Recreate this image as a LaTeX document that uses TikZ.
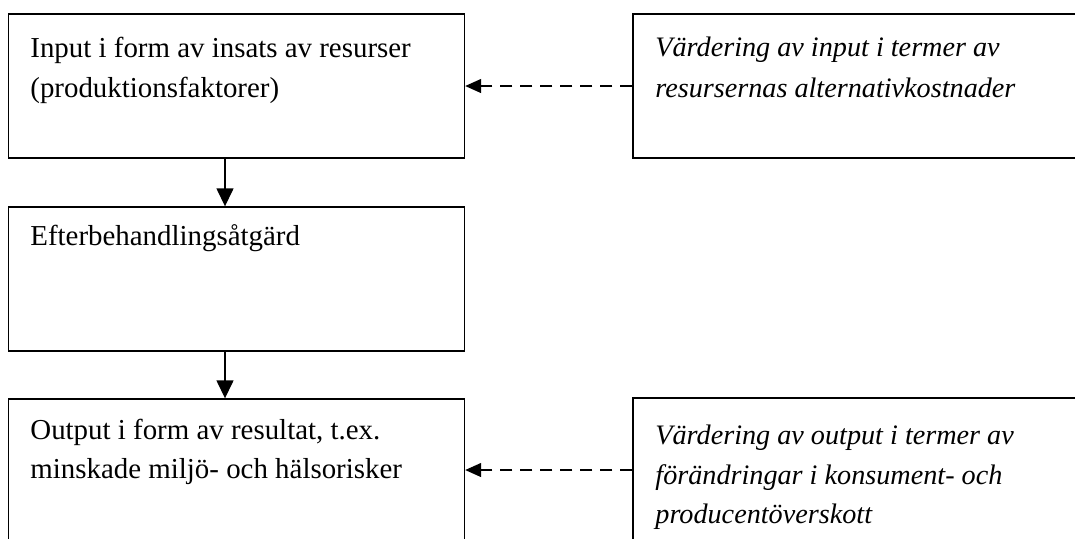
\documentclass[tikz,border=0pt]{standalone}
\usepackage{fontspec}
\setmainfont{Liberation Serif}
\usetikzlibrary{arrows.meta}
\begin{document}
\begin{tikzpicture}[x=0.5pt,y=-0.5pt,
  box/.style={draw,line width=0.7pt,inner sep=0pt,minimum width=228pt,minimum height=72pt},
  rbox/.style={draw,line width=0.7pt,inner sep=0pt,minimum width=224pt,minimum height=72pt},
  txt/.style={anchor=base west,inner sep=0pt,font=\fontsize{14.45}{20}\selectfont},
  itxt/.style={txt,font=\fontsize{14.1}{20}\selectfont\itshape},
  flow/.style={line width=0.7pt,-{Triangle[length=9pt,width=8.5pt]}},
  valarrow/.style={line width=0.7pt,dash pattern=on 6pt off 4pt,-{Triangle[length=8pt,width=7pt]}}]
\useasboundingbox (0,0) rectangle (1075,538);
\clip (0,0) rectangle (1075,538);
\node[box] (b1) at (236.5,86) {};
\node[box] (b2) at (236.5,279) {};
\node[box] (b3) at (236.5,471) {};
\node[rbox] (r1) at (857,86) {};
\node[rbox] (r2) at (857,470) {};
\node[txt] (t1a) at (30,57) {Input i form av insats av resurser};
\node[txt] (t1b) at (30,97) {(produktionsfaktorer)};
\node[txt] (t2a) at (30,245) {Efterbehandlingsåtgärd};
\node[txt] (t3a) at (30,439) {Output i form av resultat, t.ex.};
\node[txt] (t3b) at (30,478) {minskade miljö- och hälsorisker};
\node[itxt] (r1a) at (655,56) {Värdering av input i termer av};
\node[itxt] (r1b) at (655,97) {resursernas alternativkostnader};
\node[itxt] (r2a) at (655,444) {Värdering av output i termer av};
\node[itxt] (r2b) at (655,484) {förändringar i konsument- och};
\node[itxt] (r2c) at (655,523) {producentöverskott};
\draw[flow] ([xshift=-5.75pt]b1.south) -- ([xshift=-5.75pt]b2.north);
\draw[flow] ([xshift=-5.75pt]b2.south) -- ([xshift=-5.75pt]b3.north);
\draw[valarrow] (r1.west) -- (b1.east);
\draw[valarrow] (r2.west) -- (b3.east |- r2.west);
\end{tikzpicture}
\end{document}
